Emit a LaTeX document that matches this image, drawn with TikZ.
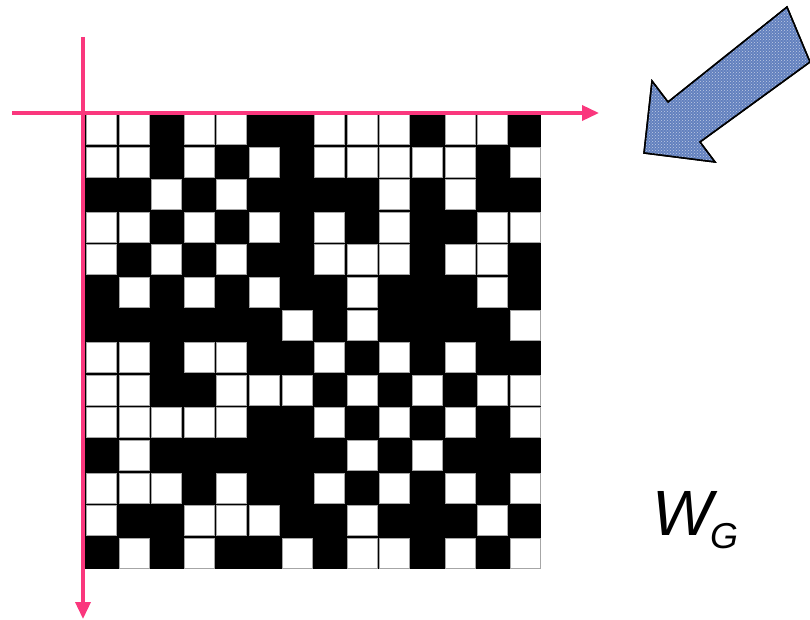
\documentclass[tikz,border=0pt]{standalone}
\usepackage{fontspec}
\setmainfont{Liberation Sans}
\usetikzlibrary{arrows.meta,patterns}
\definecolor{axispink}{RGB}{250,55,125}
\definecolor{arrowblue}{RGB}{98,128,190}
\begin{document}
\begin{tikzpicture}[x=1pt,y=-1pt,
  cell/.style={fill=white,draw=gray!70,line width=0.6pt},
  axis/.style={draw=axispink,line width=3.5pt,-{Triangle[length=17pt,width=15pt]}},
  blockarrow/.style={fill=arrowblue,draw=black,line width=1.5pt,line join=miter},
  texture/.style={pattern=crosshatch dots,pattern color=arrowblue!40!white}]
\useasboundingbox (0,0) rectangle (810,620);
\fill[black] (85,113) rectangle (541.4,569.4);
\def\cs{32.6}
\foreach \row [count=\r from 0] in {
 {1,1,0,1,1,0,0,1,1,1,0,1,1,0},
 {1,1,0,1,0,1,0,1,1,1,1,1,0,1},
 {0,0,1,0,1,0,0,0,0,1,0,1,0,0},
 {1,1,0,1,0,1,0,1,0,1,0,0,1,1},
 {1,0,1,0,1,0,0,1,1,1,0,1,1,0},
 {0,1,0,1,0,1,0,0,1,0,0,0,1,0},
 {0,0,0,0,0,0,1,0,1,0,0,0,0,1},
 {1,1,0,1,1,0,0,1,0,1,0,1,0,0},
 {1,1,0,0,1,1,1,0,1,0,1,0,1,1},
 {1,1,1,1,1,0,0,1,0,1,0,1,0,1},
 {0,1,0,0,0,0,0,0,1,0,1,0,0,0},
 {1,1,1,0,1,0,0,1,0,1,0,1,0,1},
 {1,0,0,1,1,1,0,0,1,0,0,0,1,0},
 {0,1,0,1,0,0,1,0,1,1,0,1,0,1}} {
  \foreach \v [count=\c from 0] in \row {
    \ifnum\v=1
      \draw[cell] ({85+\c*\cs+1.3},{113+\r*\cs+1.3}) rectangle ({85+(\c+1)*\cs-1.3},{113+(\r+1)*\cs-1.3});
    \fi
  }
}
\coordinate (hs) at (12,113);
\coordinate (he) at (599,113);
\coordinate (vs) at (83,37);
\coordinate (ve) at (83,619);
\draw[axis] (hs) -- (he);
\draw[axis] (vs) -- (ve);
\draw[blockarrow] (787,7) -- (810,62) -- (700,142) -- (715,162) -- (644,153) -- (652,81) -- (668,102) -- cycle;
\fill[texture] (787,7) -- (810,62) -- (700,142) -- (715,162) -- (644,153) -- (652,81) -- (668,102) -- cycle;
\draw[draw=black,line width=1.5pt,line join=miter] (787,7) -- (810,62) -- (700,142) -- (715,162) -- (644,153) -- (652,81) -- (668,102) -- cycle;
\node[anchor=base west,inner sep=0,font=\itshape\fontsize{64}{64}\selectfont] (w) at (652,535) {W};
\node[anchor=base west,inner sep=0,font=\itshape\fontsize{36}{36}\selectfont] (g) at (710,548) {G};
\end{tikzpicture}
\end{document}
